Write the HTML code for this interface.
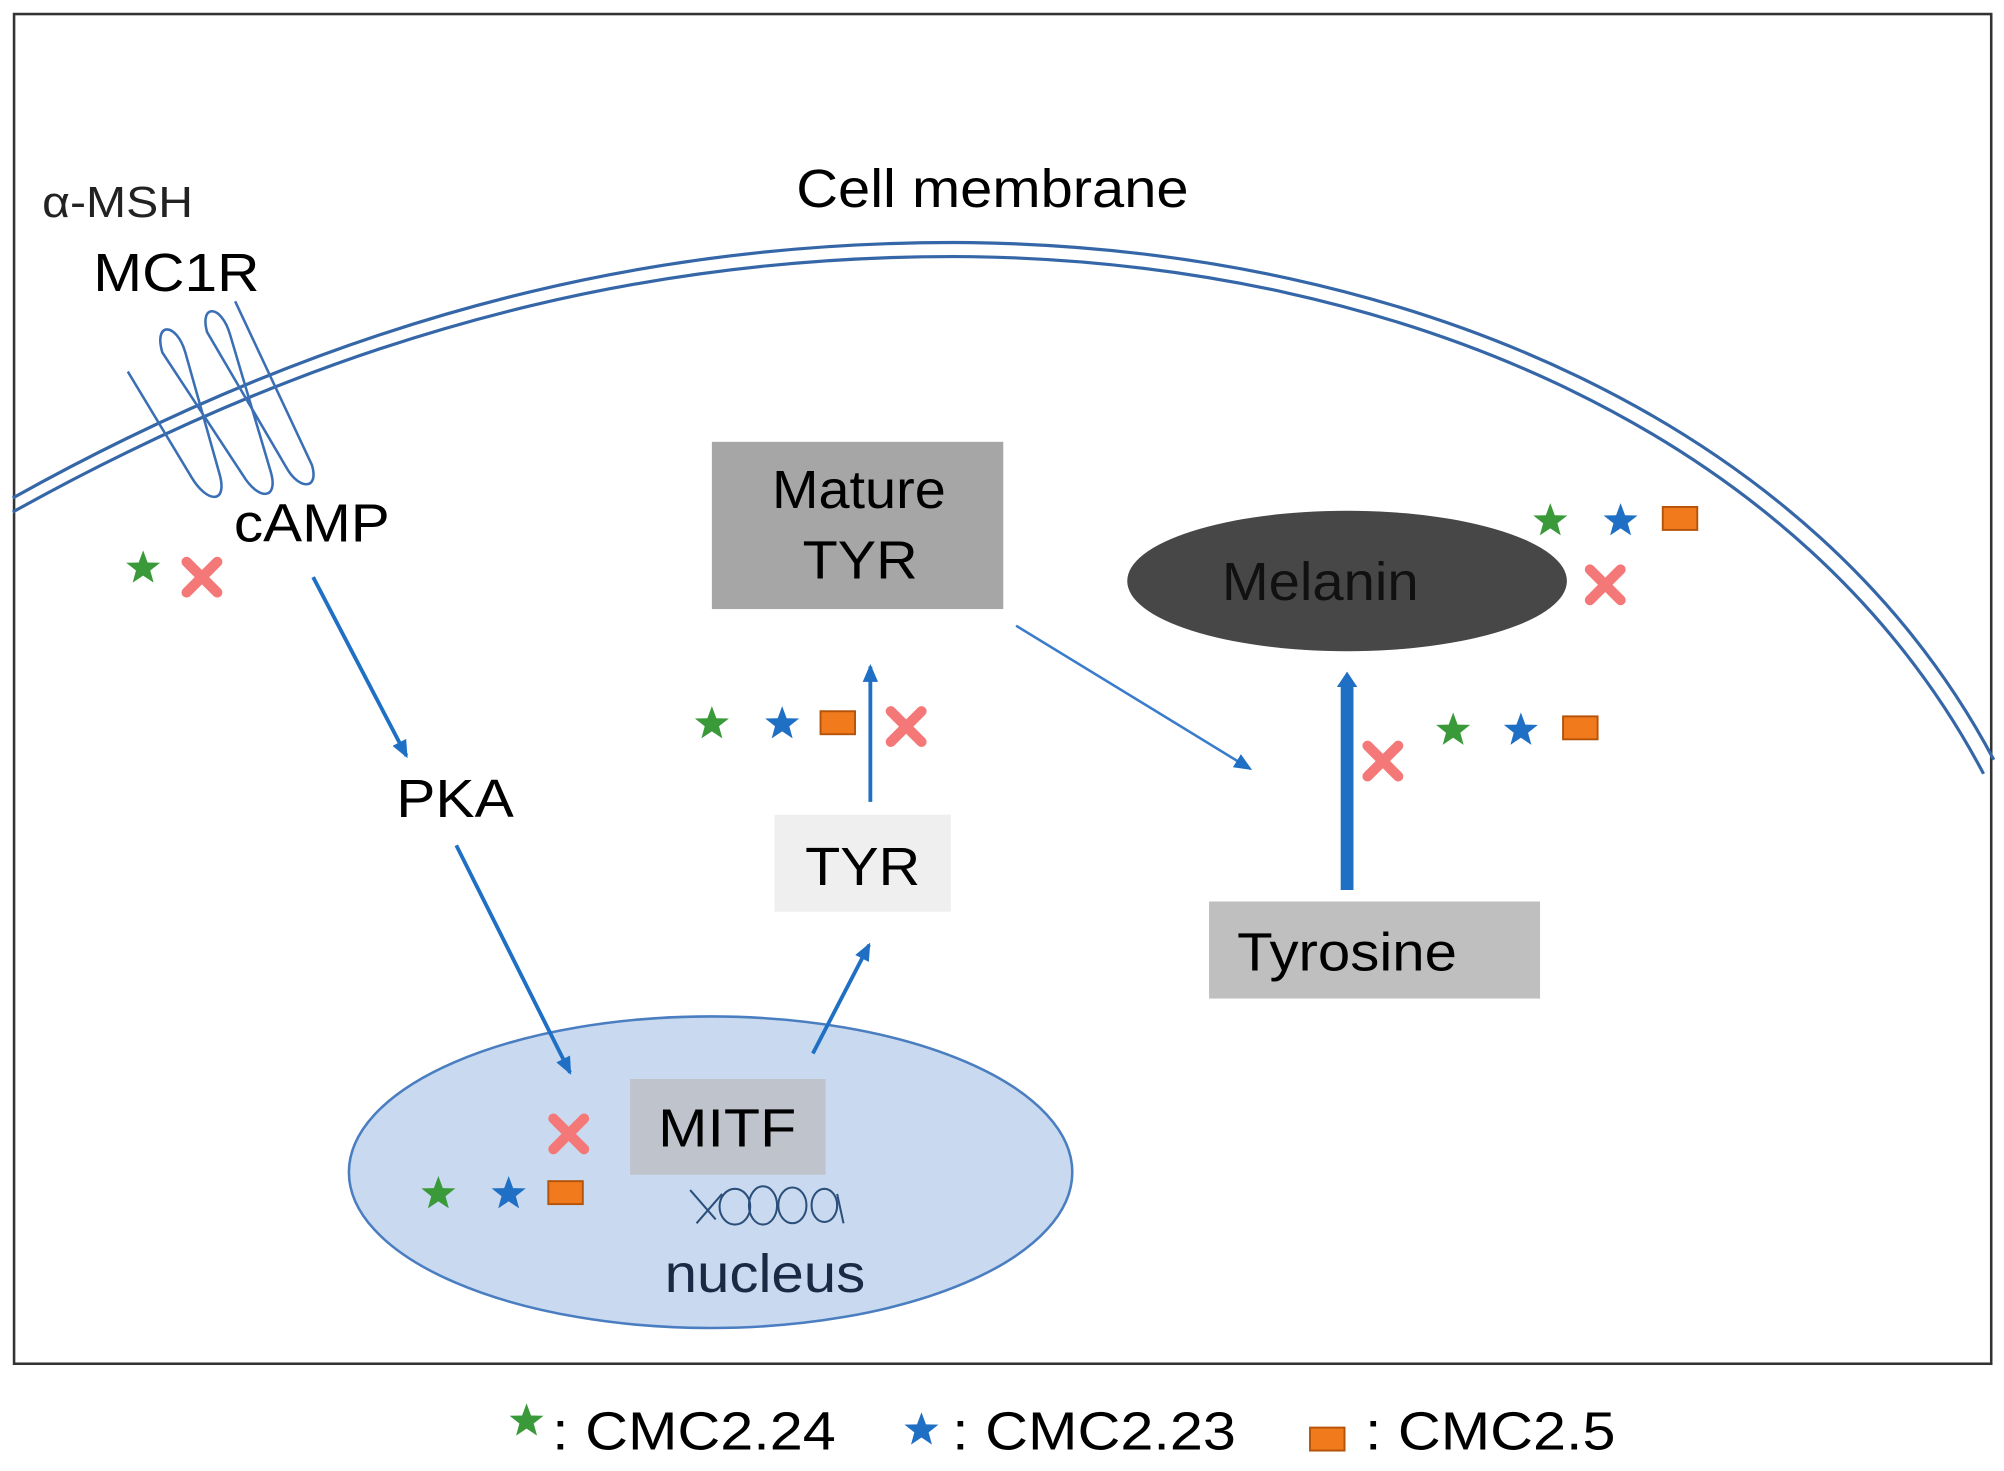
<!DOCTYPE html>
<html><head><meta charset="utf-8"><style>html,body{margin:0;padding:0;background:#fff}svg{display:block}</style></head><body>
<svg width="2004" height="1471" viewBox="0 0 1568 1152" preserveAspectRatio="none" xmlns="http://www.w3.org/2000/svg" font-family="Liberation Sans, sans-serif">
<defs>
<polygon id="st" points="0,-14 3.5,-4.5 13.3,-4.3 5.6,1.8 8.2,11.3 0,5.8 -8.2,11.3 -5.6,1.8 -13.3,-4.3 -3.5,-4.5"/>
<g id="x"><path d="M-12,-12 L12,12 M12,-12 L-12,12" stroke="#f57878" stroke-width="8" stroke-linecap="round"/></g>
<marker id="ah" markerWidth="14" markerHeight="12" refX="12" refY="6" orient="auto" markerUnits="userSpaceOnUse"><path d="M0,0 L14,6 L0,12 z" fill="#1f6fc4"/></marker>
<marker id="ah2" markerWidth="12" markerHeight="16" refX="4" refY="8" orient="auto" markerUnits="userSpaceOnUse"><path d="M0,0 L12,8 L0,16 z" fill="#1f6fc4"/></marker>
</defs>
<rect x="11" y="11" width="1547" height="1057" fill="#fff" stroke="#333" stroke-width="2"/>
<path d="M10,390 C 300,228 550,188 760,190 C 1100,195 1420,330 1560,595" fill="none" stroke="#3567a8" stroke-width="2.5"/>
<path d="M10,401 C 300,239 550,199 760,201 C 1095,206 1412,340 1552,606" fill="none" stroke="#3567a8" stroke-width="2.5"/>
<g fill="none" stroke="#3b6fb5" stroke-width="2">
<path d="M100,291 L150,374 C162,394 178,395 172,372 L145,276 C138,252 120,252 127,276 L190,372 C202,392 218,392 212,370 L180,262 C173,238 156,238 162,260 L224,366 C234,384 250,384 244,364 L184,236"/>
</g>
<text x="33" y="170" font-size="34" fill="#222" textLength="118" lengthAdjust="spacingAndGlyphs">α-MSH</text>
<text x="73" y="228" font-size="42" textLength="130" lengthAdjust="spacingAndGlyphs">MC1R</text>
<text x="623" y="162" font-size="42" textLength="307" lengthAdjust="spacingAndGlyphs">Cell membrane</text>
<text x="183" y="424" font-size="42" textLength="122" lengthAdjust="spacingAndGlyphs">cAMP</text>
<use href="#st" x="112" y="445" fill="#3a9a3a"/>
<use href="#x" x="158" y="452"/>
<line x1="245" y1="452" x2="318" y2="592" stroke="#1f6fc4" stroke-width="3" marker-end="url(#ah)"/>
<text x="310" y="640" font-size="42" textLength="92" lengthAdjust="spacingAndGlyphs">PKA</text>
<ellipse cx="556" cy="918" rx="283" ry="122" fill="#c9daf0" stroke="#4a7ec0" stroke-width="2"/>
<line x1="357" y1="662" x2="446" y2="840" stroke="#1f6fc4" stroke-width="3" marker-end="url(#ah)"/>
<rect x="493" y="845" width="153" height="75" fill="#bfc3cc"/>
<text x="515" y="898" font-size="42" textLength="108" lengthAdjust="spacingAndGlyphs">MITF</text>
<use href="#x" x="445" y="888"/>
<use href="#st" x="343" y="935" fill="#3a9a3a"/>
<use href="#st" x="398" y="935" fill="#1f6fc4"/>
<rect x="429" y="925" width="27" height="18" fill="#f07a1c" stroke="#b5530a" stroke-width="1.5"/>
<g fill="none" stroke="#2b4f7a" stroke-width="1.6">
<path d="M540,932 L560,955 M545,958 L565,935"/>
<ellipse cx="575" cy="945" rx="12" ry="14"/>
<ellipse cx="597" cy="944" rx="11" ry="15"/>
<ellipse cx="620" cy="944" rx="11" ry="14"/>
<ellipse cx="645" cy="944" rx="10" ry="13"/>
<path d="M655,935 L660,958"/>
</g>
<text x="520" y="1012" font-size="42" fill="#1a2a44" textLength="157" lengthAdjust="spacingAndGlyphs">nucleus</text>
<line x1="636" y1="825" x2="680" y2="740" stroke="#1f6fc4" stroke-width="3" marker-end="url(#ah)"/>
<rect x="606" y="638" width="138" height="76" fill="#efefef"/>
<text x="630" y="693" font-size="42" textLength="90" lengthAdjust="spacingAndGlyphs">TYR</text>
<line x1="681" y1="628" x2="681" y2="522" stroke="#1f6fc4" stroke-width="3" marker-end="url(#ah)"/>
<use href="#st" x="557" y="567" fill="#3a9a3a"/>
<use href="#st" x="612" y="567" fill="#1f6fc4"/>
<rect x="642" y="557" width="27" height="18" fill="#f07a1c" stroke="#b5530a" stroke-width="1.5"/>
<use href="#x" x="709" y="569"/>
<rect x="557" y="346" width="228" height="131" fill="#a6a6a6"/>
<text x="604" y="398" font-size="42" textLength="136" lengthAdjust="spacingAndGlyphs">Mature</text>
<text x="628" y="453" font-size="42" textLength="90" lengthAdjust="spacingAndGlyphs">TYR</text>
<line x1="795" y1="490" x2="978" y2="602" stroke="#3a7ccc" stroke-width="2" marker-end="url(#ah)"/>
<ellipse cx="1054" cy="455" rx="172" ry="55" fill="#474747"/>
<text x="956" y="470" font-size="42" fill="#111" textLength="154" lengthAdjust="spacingAndGlyphs">Melanin</text>
<use href="#st" x="1213" y="408" fill="#3a9a3a"/>
<use href="#st" x="1268" y="408" fill="#1f6fc4"/>
<rect x="1301" y="397" width="27" height="18" fill="#f07a1c" stroke="#b5530a" stroke-width="1.5"/>
<use href="#x" x="1256" y="458"/>
<line x1="1054" y1="697" x2="1054" y2="534" stroke="#1f6fc4" stroke-width="10" marker-end="url(#ah2)"/>
<use href="#x" x="1082" y="596"/>
<use href="#st" x="1137" y="572" fill="#3a9a3a"/>
<use href="#st" x="1190" y="572" fill="#1f6fc4"/>
<rect x="1223" y="561" width="27" height="18" fill="#f07a1c" stroke="#b5530a" stroke-width="1.5"/>
<rect x="946" y="706" width="259" height="76" fill="#bfbfbf"/>
<text x="968" y="760" font-size="42" textLength="172" lengthAdjust="spacingAndGlyphs">Tyrosine</text>
<use href="#st" x="412" y="1113" fill="#3a9a3a"/>
<text x="432" y="1135" font-size="42" textLength="222" lengthAdjust="spacingAndGlyphs">: CMC2.24</text>
<use href="#st" x="721" y="1120" fill="#1f6fc4"/>
<text x="745" y="1135" font-size="42" textLength="222" lengthAdjust="spacingAndGlyphs">: CMC2.23</text>
<rect x="1025" y="1118" width="27" height="18" fill="#f07a1c" stroke="#b5530a" stroke-width="1.5"/>
<text x="1068" y="1135" font-size="42" textLength="196" lengthAdjust="spacingAndGlyphs">: CMC2.5</text>
</svg>
</body></html>
